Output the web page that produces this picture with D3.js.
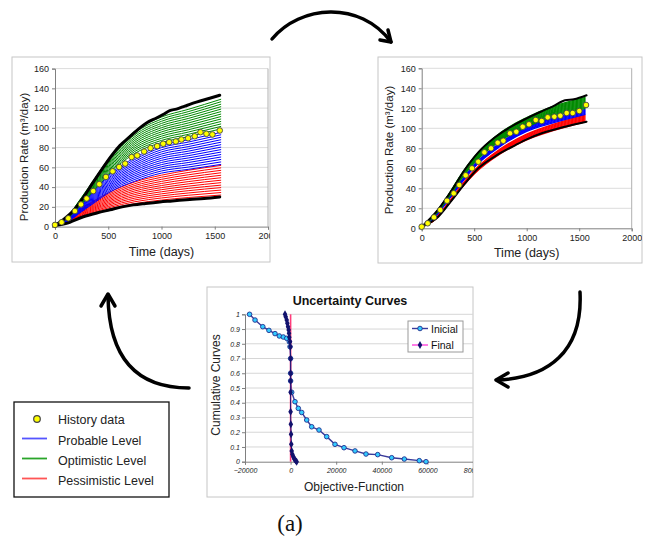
<!DOCTYPE html>
<html>
<head>
<meta charset="utf-8">
<script src="https://cdn.jsdelivr.net/npm/d3@7"></script>
<style>
  body { margin: 0; background: #fff; }
  text { font-family: Arial, "Liberation Sans", sans-serif; }
  text.serif { font-family: "Liberation Serif", "Times New Roman", serif; }
</style>
</head>
<body>
<svg id="fig" width="650" height="539"></svg>
<script>
// ---- tick labels ----
const dayTicks = [0, 500, 1000, 1500, 2000];
const rateTicks = [0, 20, 40, 60, 80, 100, 120, 140, 160];
const ofTicks = [-20000, 0, 20000, 40000, 60000, 80000];
const cumTicks = [0, 0.1, 0.2, 0.3, 0.4, 0.5, 0.6, 0.7, 0.8, 0.9, 1];

// ---- left panel (before) ----
const p1HistDays = [0, 62, 125, 187, 244, 297, 359, 416, 478, 541, 603, 659, 719, 772, 837, 897, 959, 1016, 1072, 1134, 1187, 1250, 1312, 1366, 1422, 1478, 1547];
const p1HistRate = [1.7, 4.4, 8.4, 15.8, 22.5, 28.5, 36, 43, 50.3, 56, 60.4, 63.8, 70.4, 72, 76, 79.5, 81.5, 83.9, 85.5, 86.2, 88.2, 89.5, 91.5, 95.6, 94, 93.3, 97.3];
const p1TopDays = [0, 78, 172, 250, 359, 453, 547, 609, 703, 797, 859, 953, 1015, 1078, 1140, 1219, 1328, 1453, 1547];
const p1TopRate = [1, 7, 16, 27, 45, 60, 74, 82, 91, 100, 105, 110, 113.5, 117.5, 119, 122, 126, 130, 133];
const p1BotDays = [0, 100, 266, 400, 516, 630, 734, 850, 984, 1100, 1266, 1400, 1547];
const p1BotRate = [1, 3, 10, 14, 17, 20, 22, 23.5, 25, 26, 27.5, 28.5, 30];

// simulation fans: fraction of final rate at fanDays, and the final rate of each run
const fanDays = [0, 125, 250, 375, 500, 750, 1000, 1250, 1560];
const p1GreenShape = [0.015, 0.09, 0.23, 0.38, 0.53, 0.75, 0.86, 0.92, 1];
const p1BlueShape = [0.018, 0.087, 0.24, 0.39, 0.54, 0.73, 0.86, 0.92, 1];
const p1RedShape = [0.03, 0.13, 0.3, 0.43, 0.55, 0.73, 0.84, 0.92, 1];
const p1GreenEnds = [99, 101.5, 104, 106.5, 109, 111.5, 114, 116.5, 119, 121.5, 124, 126.5, 129];
const p1BlueEnds = [63, 65.5, 68, 70.5, 73, 75.5, 78, 80.5, 83, 85.5, 88, 90.5, 93, 95.5];
const p1RedEnds = [32, 34.5, 37, 39.5, 42, 44.5, 47, 49.5, 52, 54.5, 57, 59.5, 62];

// ---- right panel (after) ----
const p2HistDays = [0, 57, 117, 177, 241, 305, 358, 419, 479, 539, 597, 660, 724, 777, 841, 901, 962, 1022, 1086, 1143, 1200, 1263, 1320, 1381, 1438, 1501, 1565];
const p2HistRate = [1.6, 5, 11, 18.3, 27.6, 35, 43.3, 53, 60, 66.6, 76, 80, 85.6, 87.6, 95, 96.6, 101.6, 104, 108.3, 107.3, 111, 111.6, 112.6, 115.3, 115.3, 117.3, 123.3];
const p2TopDays = [0, 158, 286, 413, 539, 698, 889, 1000, 1143, 1250, 1365, 1450, 1570];
const p2TopRate = [1.5, 19, 38, 59, 76, 91, 104, 110, 117, 122, 128, 129, 133];
const p2BotDays = [0, 158, 286, 413, 539, 698, 889, 1000, 1143, 1365, 1570];
const p2BotRate = [1.5, 11.6, 28, 45, 60, 72, 83, 89, 95, 101.6, 106.6];
const p2GreenShape = [0.011, 0.11, 0.25, 0.41, 0.545, 0.73, 0.845, 0.93, 1];
const p2BlueShape = [0.013, 0.1, 0.245, 0.395, 0.535, 0.72, 0.85, 0.925, 1];
const p2RedShape = [0.014, 0.08, 0.22, 0.375, 0.51, 0.7, 0.83, 0.916, 1];
const p2GreenEnds = [120, 121, 122, 123, 124, 125, 126, 127, 128, 129, 130, 131];
const p2BlueEnds = [114, 115, 116, 117, 118, 119];
const p2RedEnds = [106.5, 107.5, 108.5, 109.5, 110.5, 111.5, 112.5, 113.5];

// ---- uncertainty curves ----
const inicialOF = [-18000, -15600, -12200, -9500, -6840, -4950, -3200, -1700, -570, -260, 0, 0, 0, 480, 1930, 3380, 4870, 7060, 9250, 12460, 15830, 19470, 23420, 28250, 33070, 38200, 44340, 49870, 56450, 59390];
const inicialCum = [1.0, 0.961, 0.916, 0.891, 0.869, 0.853, 0.846, 0.837, 0.814, 0.78, 0.70, 0.60, 0.548, 0.471, 0.407, 0.362, 0.334, 0.283, 0.237, 0.215, 0.17, 0.118, 0.095, 0.073, 0.052, 0.048, 0.027, 0.018, 0.007, 0.0];
const finalOF = [-2460, -2150, -1710, -1430, -1140, -850, -700, -570, -260, -100, 0, 0, 0, 0, 0, 100, 200, 300, 480, 770, 1200, 1640, 2220, 2660];
const finalCum = [1.0, 0.984, 0.961, 0.939, 0.916, 0.894, 0.871, 0.844, 0.814, 0.78, 0.70, 0.60, 0.548, 0.471, 0.339, 0.254, 0.186, 0.118, 0.073, 0.05, 0.034, 0.018, 0.007, 0.0];

const GREEN = "#008a00", BLUE = "#0000ff", RED = "#ff0000";

const svg = d3.select("#fig");
const defs = svg.append("defs");

function zip(a, b) { return a.map((v, i) => [v, b[i]]); }

function prodPanel(o) {
  defs.append("clipPath").attr("id", "clip" + o.id)
    .append("rect").attr("x", o.box[0]).attr("y", o.box[1]).attr("width", o.box[2]).attr("height", o.box[3]);

  svg.append("rect")
    .attr("x", o.box[0]).attr("y", o.box[1]).attr("width", o.box[2]).attr("height", o.box[3])
    .attr("fill", "#fff").attr("stroke", "#c6c6c6");

  const g = svg.append("g").attr("clip-path", `url(#clip${o.id})`);

  const x = d3.scaleLinear().domain([0, 2000]).range([o.left, o.right]);
  const y = d3.scaleLinear().domain([0, 160]).range([o.bottom, o.top]);

  g.append("g").selectAll("line").data(rateTicks.slice(1)).join("line")
    .attr("x1", o.left).attr("x2", o.right)
    .attr("y1", d => y(d)).attr("y2", d => y(d))
    .attr("stroke", "#dcdcdc");
  g.append("line").attr("x1", o.right).attr("x2", o.right).attr("y1", o.top).attr("y2", o.bottom)
    .attr("stroke", "#b0b0b0");

  const yAxis = g.append("g").attr("transform", `translate(${o.left},0)`)
    .call(d3.axisLeft(y).tickValues(rateTicks).tickSize(3).tickPadding(3));
  const xAxis = g.append("g").attr("transform", `translate(0,${o.bottom})`)
    .call(d3.axisBottom(x).tickValues(dayTicks).tickSize(3).tickPadding(3).tickFormat(d3.format("d")));
  [yAxis, xAxis].forEach(a => {
    a.selectAll(".domain, .tick line").attr("stroke", "#808080");
    a.selectAll("text").attr("font-size", "9px").attr("fill", "#222");
  });

  const line = d3.line().x(d => x(d[0])).y(d => y(d[1])).curve(d3.curveMonotoneX);

  const fans = [
    [o.red, o.redShape, RED],
    [o.blue, o.blueShape, BLUE],
    [o.green, o.greenShape, GREEN]
  ];
  fans.forEach(([ends, shape, col]) => {
    g.append("g").selectAll("path").data(ends).join("path")
      .attr("d", e => line(fanDays.map((t, i) => [t, shape[i] * e])))
      .attr("fill", "none").attr("stroke", col).attr("stroke-width", o.fanWidth);
  });

  [[o.topDays, o.topRate], [o.botDays, o.botRate]].forEach(([d, r]) => {
    g.append("path").attr("d", line(zip(d, r)))
      .attr("fill", "none").attr("stroke", "#000").attr("stroke-width", o.edgeWidth)
      .attr("stroke-linejoin", "round").attr("stroke-linecap", "round");
  });

  g.append("g").selectAll("circle").data(zip(o.histDays, o.histRate)).join("circle")
    .attr("cx", d => x(d[0])).attr("cy", d => y(d[1])).attr("r", 2.8)
    .attr("fill", "#ffff00").attr("stroke", "#444").attr("stroke-width", 0.9);

  g.append("text")
    .attr("x", (x(0) + x(2000)) / 2).attr("y", o.bottom + 29)
    .attr("text-anchor", "middle").attr("font-size", "12.5px").attr("fill", "#222")
    .text("Time (days)");
  g.append("text")
    .attr("transform", `translate(${o.ylabX},${o.ylabY}) rotate(-90)`)
    .attr("text-anchor", "middle").attr("font-size", "11.5px").attr("fill", "#222")
    .text("Production Rate (m³/day)");
}

prodPanel({
  id: 1, box: [12, 57, 258, 205],
  left: 55, right: 268, top: 68.6, bottom: 226.6,
  ylabX: 28, ylabY: 157, fanWidth: 1, edgeWidth: 3,
  histDays: p1HistDays, histRate: p1HistRate,
  topDays: p1TopDays, topRate: p1TopRate, botDays: p1BotDays, botRate: p1BotRate,
  green: p1GreenEnds, blue: p1BlueEnds, red: p1RedEnds,
  greenShape: p1GreenShape, blueShape: p1BlueShape, redShape: p1RedShape
});

prodPanel({
  id: 2, box: [378, 57, 264, 206],
  left: 421.7, right: 631.7, top: 68.3, bottom: 228.3,
  ylabX: 393, ylabY: 150, fanWidth: 1.3, edgeWidth: 2,
  histDays: p2HistDays, histRate: p2HistRate,
  topDays: p2TopDays, topRate: p2TopRate, botDays: p2BotDays, botRate: p2BotRate,
  green: p2GreenEnds, blue: p2BlueEnds, red: p2RedEnds,
  greenShape: p2GreenShape, blueShape: p2BlueShape, redShape: p2RedShape
});

// ---- uncertainty curves panel ----
(function () {
  const box = [207, 287, 266, 210];
  defs.append("clipPath").attr("id", "clip3")
    .append("rect").attr("x", box[0]).attr("y", box[1]).attr("width", box[2]).attr("height", box[3]);
  svg.append("rect").attr("x", box[0]).attr("y", box[1]).attr("width", box[2]).attr("height", box[3])
    .attr("fill", "#fff").attr("stroke", "#c6c6c6");
  const g = svg.append("g").attr("clip-path", "url(#clip3)");

  const x = d3.scaleLinear().domain([-20000, 80000]).range([245, 473]);
  const y = d3.scaleLinear().domain([0, 1]).range([461.7, 314.3]);

  g.append("g").selectAll("line").data(cumTicks.slice(1)).join("line")
    .attr("x1", x(-20000)).attr("x2", x(80000))
    .attr("y1", d => y(d)).attr("y2", d => y(d))
    .attr("stroke", "#d6d6d6");

  const yAxis = g.append("g").attr("transform", `translate(${x(-20000)},0)`)
    .call(d3.axisLeft(y).tickValues(cumTicks).tickSize(3).tickPadding(2)
      .tickFormat(d => d === 0 ? "0" : d === 1 ? "1" : d.toFixed(1)));
  const xAxis = g.append("g").attr("transform", `translate(0,${y(0)})`)
    .call(d3.axisBottom(x).tickValues(ofTicks).tickSize(3).tickPadding(3).tickFormat(d3.format("d")));
  [yAxis, xAxis].forEach(a => {
    a.selectAll(".domain, .tick line").attr("stroke", "#808080");
    a.selectAll("text").attr("font-size", "7px").attr("font-style", "italic").attr("fill", "#222");
  });

  const line = d3.line().x(d => x(d[0])).y(d => y(d[1]));

  // inicial
  g.append("path").attr("d", line(zip(inicialOF, inicialCum)))
    .attr("fill", "none").attr("stroke", "#3a3a9a").attr("stroke-width", 1.4);
  g.append("g").selectAll("circle").data(zip(inicialOF, inicialCum)).join("circle")
    .attr("cx", d => x(d[0])).attr("cy", d => y(d[1])).attr("r", 2.3)
    .attr("fill", "#33ccff").attr("stroke", "#1f2f8f").attr("stroke-width", 0.9);

  // final
  g.append("line").attr("x1", x(0)).attr("x2", x(0)).attr("y1", y(0)).attr("y2", y(1))
    .attr("stroke", "#ff3c7a").attr("stroke-width", 1.6);
  g.append("path").attr("d", line(zip(finalOF, finalCum)))
    .attr("fill", "none").attr("stroke", "#1a1a7a").attr("stroke-width", 1);
  g.append("g").selectAll("path.m").data(zip(finalOF, finalCum)).join("path")
    .attr("transform", d => `translate(${x(d[0])},${y(d[1])})`)
    .attr("d", d3.symbol(d3.symbolDiamond, 18))
    .attr("fill", "#12126e");

  g.append("text").attr("x", 350).attr("y", 305).attr("text-anchor", "middle")
    .attr("font-size", "12.5px").attr("font-weight", "bold").attr("fill", "#111")
    .text("Uncertainty Curves");
  g.append("text").attr("x", 354).attr("y", 491).attr("text-anchor", "middle")
    .attr("font-size", "12px").attr("fill", "#222").text("Objective-Function");
  g.append("text").attr("transform", "translate(220,385) rotate(-90)").attr("text-anchor", "middle")
    .attr("font-size", "12px").attr("fill", "#222").text("Cumulative Curves");

  // legend
  const lg = g.append("g");
  lg.append("rect").attr("x", 408).attr("y", 321).attr("width", 55).attr("height", 31)
    .attr("fill", "#fff").attr("stroke", "#9a9a9a");
  lg.append("line").attr("x1", 412).attr("x2", 428).attr("y1", 328.5).attr("y2", 328.5)
    .attr("stroke", "#3a3a9a").attr("stroke-width", 1.4);
  lg.append("circle").attr("cx", 420).attr("cy", 328.5).attr("r", 2.3)
    .attr("fill", "#33ccff").attr("stroke", "#1f2f8f").attr("stroke-width", 0.9);
  lg.append("text").attr("x", 431).attr("y", 332.5).attr("font-size", "10.5px").attr("fill", "#111").text("Inicial");
  lg.append("line").attr("x1", 412).attr("x2", 428).attr("y1", 345).attr("y2", 345)
    .attr("stroke", "#ff44dd").attr("stroke-width", 1.4);
  lg.append("path").attr("transform", "translate(420,345)").attr("d", d3.symbol(d3.symbolDiamond, 18))
    .attr("fill", "#12126e");
  lg.append("text").attr("x", 431).attr("y", 349).attr("font-size", "10.5px").attr("fill", "#111").text("Final");
})();

// ---- main legend ----
(function () {
  const lg = svg.append("g");
  lg.append("rect").attr("x", 14).attr("y", 402).attr("width", 155).attr("height", 95)
    .attr("fill", "#fff").attr("stroke", "#111").attr("stroke-width", 1.3);
  const items = [
    { label: "History data", type: "dot", cy: 419 },
    { label: "Probable Level", color: "#5555ff", cy: 440 },
    { label: "Optimistic Level", color: "#2aa52a", cy: 460 },
    { label: "Pessimistic Level", color: "#ff5555", cy: 480 }
  ];
  items.forEach(it => {
    if (it.type === "dot") {
      lg.append("circle").attr("cx", 37).attr("cy", it.cy).attr("r", 3.3)
        .attr("fill", "#ffff00").attr("stroke", "#444").attr("stroke-width", 1.2);
    } else {
      lg.append("line").attr("x1", 22).attr("x2", 47).attr("y1", it.cy - 1.5).attr("y2", it.cy - 1.5)
        .attr("stroke", it.color).attr("stroke-width", 1.8);
    }
    lg.append("text").attr("x", 58).attr("y", it.cy + 4.5).attr("font-size", "12.5px").attr("fill", "#222")
      .text(it.label);
  });
})();

// ---- arrows ----
const arrows = svg.append("g").attr("fill", "none").attr("stroke", "#000")
  .attr("stroke-width", 3.5).attr("stroke-linecap", "round").attr("stroke-linejoin", "round");
arrows.append("path").attr("d", "M272,39 C300,5 360,0 391,42");
arrows.append("path").attr("d", "M380,40 L391,42 L388,30");
arrows.append("path").attr("d", "M189,388 C140,388 109,362 108,296");
arrows.append("path").attr("d", "M101,306 L108,294 L115,306");
arrows.append("path").attr("d", "M580,292 C583,352 548,378 497,380");
arrows.append("path").attr("d", "M508,373 L496,380 L508,387");

svg.append("text").attr("class", "serif").attr("x", 290).attr("y", 531).attr("text-anchor", "middle")
  .attr("font-size", "23px").attr("fill", "#111").text("(a)");
</script>
</body>
</html>
